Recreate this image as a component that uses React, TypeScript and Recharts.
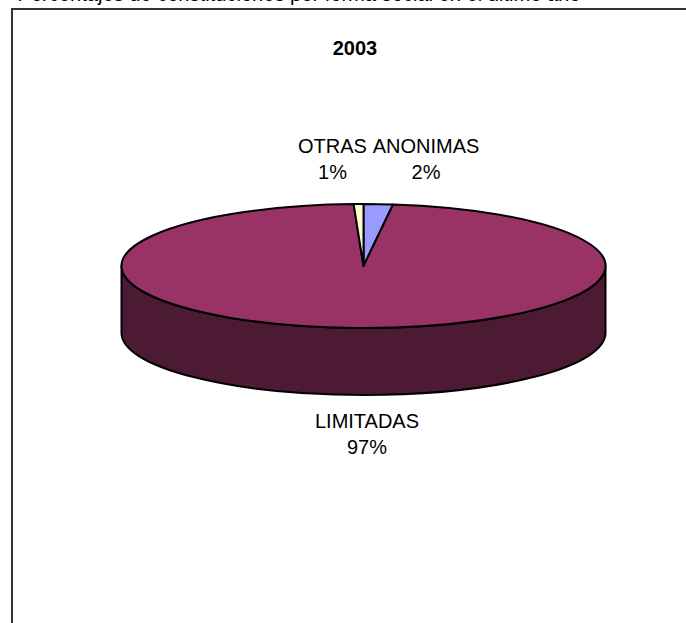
import React from "react";
import { PieChart, Pie, Cell } from "recharts";

const categories = ["ANONIMAS", "LIMITADAS", "OTRAS"];
const shareValues = [1.95, 97.4, 0.65];
const sliceColors = ["#9999FF", "#993366", "#FFFFCC"];
const chartTitle = "2003";
const pageHeading = "Porcentajes de constituciones por forma social en el último año";

const tableData = categories.map((name, i) => ({ name, value: shareValues[i] }));

const FONT = "'Liberation Sans', Arial, sans-serif";
const SQUASH = 62 / 242;
const DEPTH = 67;
const WALL = "#4D1A33";

const labelCentres: Record<string, [number, number]> = {
  ANONIMAS: [426, 153],
  LIMITADAS: [367, 428],
  OTRAS: [332.5, 153],
};

function EllipseSlice(props: any) {
  const { cx, cy, outerRadius, startAngle, endAngle, fill, name } = props;
  const rx = outerRadius;
  const ry = outerRadius * SQUASH;
  const pt = (deg: number) => {
    const a = (deg * Math.PI) / 180;
    return [cx + rx * Math.cos(a), cy - ry * Math.sin(a)];
  };
  const [x0, y0] = pt(startAngle);
  const [x1, y1] = pt(endAngle);
  const large = Math.abs(endAngle - startAngle) > 180 ? 1 : 0;
  const top = `M${cx},${cy} L${x0},${y0} A${rx},${ry} 0 ${large} 1 ${x1},${y1} Z`;
  const wall = `M${cx - rx},${cy} L${cx - rx},${cy + DEPTH} A${rx},${ry} 0 0 0 ${cx + rx},${cy + DEPTH} L${cx + rx},${cy} A${rx},${ry} 0 0 1 ${cx - rx},${cy} Z`;
  return (
    <g>
      {name === "LIMITADAS" && <path d={wall} fill={WALL} stroke="#000" strokeWidth={2} strokeLinejoin="round" />}
      <path d={top} fill={fill} stroke="#000" strokeWidth={2} strokeLinejoin="round" />
    </g>
  );
}

function SliceLabel(props: any) {
  const { name, percent } = props;
  const [x, y] = labelCentres[name];
  return (
    <text x={x} y={y} textAnchor="middle" fontFamily={FONT} fontSize={20} fill="#000">
      <tspan x={x}>{name}</tspan>
      <tspan x={x} dy={25.5}>{`${Math.round(percent * 100)}%`}</tspan>
    </text>
  );
}

export default function App() {
  return (
    <div style={{ position: "absolute", left: 0, top: 0, width: 686, height: 623, overflow: "hidden", background: "#fff" }}>
      <div style={{ position: "absolute", left: 10.5, top: 8, width: 700, height: 640, border: "2px solid #333", boxSizing: "border-box" }} />
      <div style={{ position: "absolute", left: 17.5, top: -17, whiteSpace: "nowrap", fontFamily: FONT, fontSize: 20.1, lineHeight: "23px", color: "#000" }}>
        {pageHeading}
      </div>
      <div style={{ position: "absolute", left: 255, width: 200, top: 37, textAlign: "center", fontFamily: FONT, fontSize: 20, lineHeight: "23px", fontWeight: 700, color: "#000" }}>
        {chartTitle}
      </div>
      <div style={{ position: "absolute", left: 0, top: 0 }}>
        <PieChart width={686} height={623} margin={{ top: 0, right: 0, bottom: 0, left: 0 }}>
          <Pie
            data={tableData}
            dataKey="value"
            nameKey="name"
            cx={363.5}
            cy={266}
            innerRadius={0}
            outerRadius={242}
            startAngle={90}
            endAngle={-270}
            stroke="#000"
            shape={EllipseSlice}
            label={SliceLabel}
            labelLine={false}
            isAnimationActive={false}
          >
            {categories.map((c, i) => (
              <Cell key={c} fill={sliceColors[i]} />
            ))}
          </Pie>
        </PieChart>
      </div>
    </div>
  );
}
